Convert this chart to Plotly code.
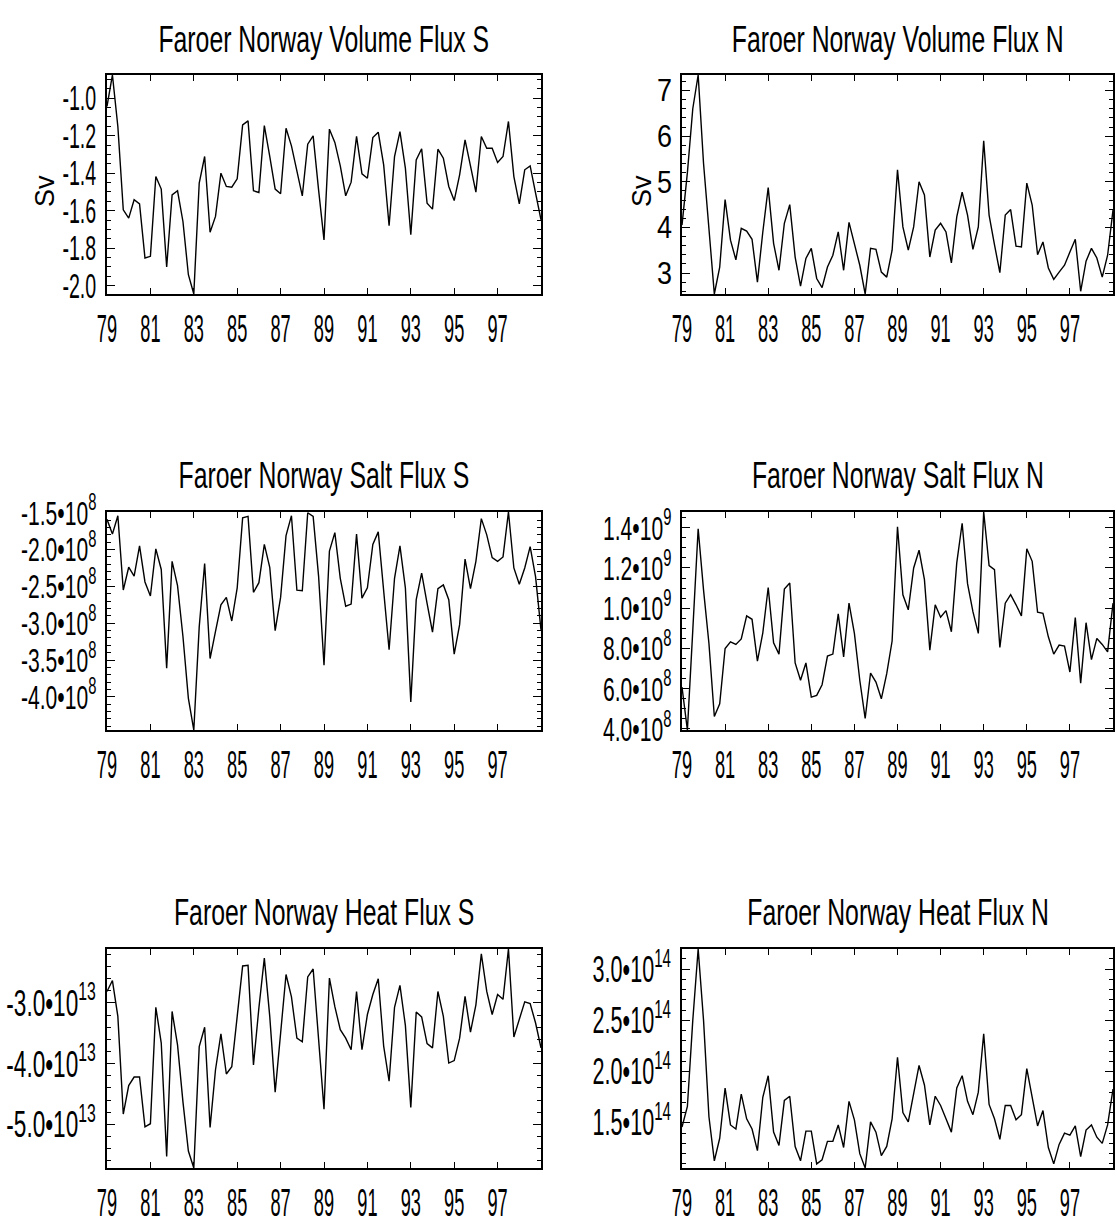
import plotly.graph_objects as go

# ---------------- data (quarterly, 1979.00 .. 1999.00) ----------------
start_year = 79
quarters = list(range(81))
years = [start_year + q / 4 for q in quarters]

vol_s = [-1.044, -0.876, -1.151, -1.596, -1.640, -1.542, -1.564, -1.853, -1.844, -1.418,
         -1.485, -1.901, -1.516, -1.494, -1.658, -1.942, -2.045, -1.453, -1.311, -1.715,
         -1.631, -1.400, -1.471, -1.475, -1.430, -1.142, -1.121, -1.494, -1.503, -1.146,
         -1.311, -1.485, -1.510, -1.160, -1.254, -1.391, -1.521, -1.245, -1.201, -1.489,
         -1.756, -1.165, -1.236, -1.361, -1.521, -1.448, -1.204, -1.404, -1.427, -1.210,
         -1.181, -1.356, -1.681, -1.311, -1.178, -1.373, -1.729, -1.329, -1.270, -1.560,
         -1.592, -1.272, -1.320, -1.471, -1.546, -1.409, -1.222, -1.361, -1.501, -1.204,
         -1.267, -1.267, -1.343, -1.311, -1.124, -1.418, -1.564, -1.382, -1.361, -1.507,
         -1.649]

vol_n = [4.05, 5.2, 6.6, 7.34, 5.4, 3.9, 2.54, 3.13, 4.61, 3.72,
         3.29, 3.98, 3.92, 3.74, 2.80, 3.90, 4.87, 3.65, 3.06, 4.09,
         4.50, 3.35, 2.71, 3.32, 3.54, 2.88, 2.68, 3.13, 3.39, 3.90,
         3.06, 4.11, 3.65, 3.17, 2.54, 3.54, 3.52, 3.02, 2.91, 3.50,
         5.26, 4.01, 3.50, 4.01, 5.00, 4.71, 3.35, 3.94, 4.09, 3.90,
         3.22, 4.23, 4.77, 4.27, 3.52, 4.01, 5.90, 4.27, 3.62, 3.01,
         4.27, 4.39, 3.59, 3.57, 4.97, 4.49, 3.40, 3.68, 3.11, 2.86,
         3.02, 3.17, 3.46, 3.74, 2.60, 3.26, 3.54, 3.33, 2.91, 3.39,
         4.38]

salt_s_1e8 = [-1.59, -1.79, -1.54, -2.55, -2.24, -2.36, -1.95, -2.44, -2.63, -1.99,
              -2.27, -3.61, -2.16, -2.49, -3.18, -4.02, -4.45, -3.05, -2.19, -3.48,
              -3.11, -2.75, -2.65, -2.97, -2.52, -1.57, -1.55, -2.58, -2.45, -1.93,
              -2.24, -3.10, -2.65, -1.81, -1.54, -2.55, -2.56, -1.50, -1.55, -2.36,
              -3.57, -2.02, -1.77, -2.39, -2.77, -2.74, -1.79, -2.66, -2.52, -1.93,
              -1.76, -2.59, -3.36, -2.39, -1.95, -2.52, -4.07, -2.68, -2.32, -2.73,
              -3.12, -2.53, -2.48, -2.68, -3.42, -3.02, -2.13, -2.53, -2.16, -1.58,
              -1.80, -2.11, -2.16, -2.10, -1.49, -2.25, -2.47, -2.25, -1.96, -2.37,
              -3.09]

salt_n_1e9 = [0.608, 0.395, 0.890, 1.395, 1.090, 0.825, 0.462, 0.525, 0.800, 0.833,
              0.820, 0.847, 0.962, 0.945, 0.737, 0.878, 1.103, 0.828, 0.772, 1.095,
              1.125, 0.728, 0.642, 0.728, 0.558, 0.567, 0.620, 0.762, 0.772, 0.972,
              0.758, 1.025, 0.875, 0.642, 0.453, 0.678, 0.633, 0.550, 0.675, 0.837,
              1.405, 1.067, 0.992, 1.200, 1.288, 1.142, 0.792, 1.017, 0.955, 0.988,
              0.883, 1.225, 1.422, 1.122, 0.983, 0.875, 1.478, 1.212, 1.192, 0.805,
              1.025, 1.067, 1.017, 0.962, 1.295, 1.233, 0.980, 0.975, 0.858, 0.772,
              0.817, 0.812, 0.683, 0.953, 0.628, 0.928, 0.745, 0.850, 0.820, 0.783,
              1.025]

heat_s_1e13 = [-2.81, -2.63, -3.22, -4.83, -4.36, -4.22, -4.22, -5.04, -4.99, -3.07,
               -3.66, -5.53, -3.14, -3.69, -4.63, -5.44, -5.72, -3.72, -3.40, -5.05,
               -4.10, -3.51, -4.17, -4.05, -3.22, -2.39, -2.38, -4.02, -3.08, -2.26,
               -3.22, -4.47, -3.50, -2.53, -2.90, -3.58, -3.64, -2.57, -2.44, -3.63,
               -4.75, -2.59, -3.06, -3.44, -3.58, -3.77, -2.81, -3.77, -3.19, -2.86,
               -2.60, -3.71, -4.29, -3.07, -2.71, -3.37, -4.72, -3.15, -3.23, -3.67,
               -3.74, -2.81, -3.22, -3.99, -3.95, -3.58, -2.89, -3.48, -3.03, -2.19,
               -2.81, -3.19, -2.86, -2.94, -2.11, -3.56, -3.28, -2.98, -3.01, -3.33,
               -3.74]

heat_n_1e14 = [1.46, 1.66, 2.50, 3.196, 2.50, 1.56, 1.13, 1.35, 1.84, 1.48,
               1.44, 1.78, 1.54, 1.44, 1.23, 1.75, 1.96, 1.41, 1.28, 1.72,
               1.76, 1.27, 1.13, 1.42, 1.42, 1.10, 1.14, 1.32, 1.32, 1.48,
               1.26, 1.71, 1.53, 1.20, 1.06, 1.51, 1.41, 1.18, 1.27, 1.54,
               2.14, 1.60, 1.51, 1.78, 2.06, 1.87, 1.48, 1.76, 1.67, 1.54,
               1.41, 1.84, 1.96, 1.71, 1.58, 1.80, 2.37, 1.68, 1.54, 1.34,
               1.67, 1.67, 1.53, 1.58, 2.03, 1.75, 1.47, 1.62, 1.26, 1.10,
               1.29, 1.40, 1.38, 1.47, 1.17, 1.43, 1.48, 1.36, 1.30, 1.48,
               1.83]

titles = ["Faroer Norway Volume Flux S", "Faroer Norway Volume Flux N",
          "Faroer Norway Salt Flux S", "Faroer Norway Salt Flux N",
          "Faroer Norway Heat Flux S", "Faroer Norway Heat Flux N"]
y_titles = ["Sv", "Sv", None, None, None, None]

x_tick_vals = [79, 81, 83, 85, 87, 89, 91, 93, 95, 97]
x_tick_text = ["79", "81", "83", "85", "87", "89", "91", "93", "95", "97"]

vol_s_ticks = [-2.0, -1.8, -1.6, -1.4, -1.2, -1.0]
vol_s_text = ["-2.0", "-1.8", "-1.6", "-1.4", "-1.2", "-1.0"]
vol_n_ticks = [3, 4, 5, 6, 7]
vol_n_text = ["3", "4", "5", "6", "7"]
salt_s_ticks = [-4.0e8, -3.5e8, -3.0e8, -2.5e8, -2.0e8, -1.5e8]
salt_s_text = ["-4.0•10<sup>8</sup>", "-3.5•10<sup>8</sup>", "-3.0•10<sup>8</sup>",
               "-2.5•10<sup>8</sup>", "-2.0•10<sup>8</sup>", "-1.5•10<sup>8</sup>"]
salt_n_ticks = [4.0e8, 6.0e8, 8.0e8, 1.0e9, 1.2e9, 1.4e9]
salt_n_text = ["4.0•10<sup>8</sup>", "6.0•10<sup>8</sup>", "8.0•10<sup>8</sup>",
               "1.0•10<sup>9</sup>", "1.2•10<sup>9</sup>", "1.4•10<sup>9</sup>"]
heat_s_ticks = [-5.0e13, -4.0e13, -3.0e13]
heat_s_text = ["-5.0•10<sup>13</sup>", "-4.0•10<sup>13</sup>", "-3.0•10<sup>13</sup>"]
heat_n_ticks = [1.5e14, 2.0e14, 2.5e14, 3.0e14]
heat_n_text = ["1.5•10<sup>14</sup>", "2.0•10<sup>14</sup>", "2.5•10<sup>14</sup>", "3.0•10<sup>14</sup>"]

series_values = [vol_s,
                 vol_n,
                 [v * 1e8 for v in salt_s_1e8],
                 [v * 1e9 for v in salt_n_1e9],
                 [v * 1e13 for v in heat_s_1e13],
                 [v * 1e14 for v in heat_n_1e14]]
y_tick_vals = [vol_s_ticks, vol_n_ticks, salt_s_ticks, salt_n_ticks, heat_s_ticks, heat_n_ticks]
y_tick_text = [vol_s_text, vol_n_text, salt_s_text, salt_n_text, heat_s_text, heat_n_text]
y_minor_step = [0.05, 0.2, 0.1e8, 0.05e9, 0.2e13, 0.1e14]

# ---------------- style / layout ----------------
W, H = 1117, 1231
FONT = "Liberation Sans, Arial, Helvetica, sans-serif"
col_px = [(107, 541), (682, 1113)]
row_px = [(75, 294), (512, 730), (949, 1168)]
title_y_px = [40, 476, 912]
ylab_size = [35, 31, 34, 34, 37, 36]
ylab_squeeze = [0.56, 0.87, 0.62, 0.62, 0.61, 0.60]
title_size, title_squeeze = 37, 0.67
xlab_size, xlab_squeeze = 38, 0.48

fig = go.Figure()
annotations = []
for k, vals in enumerate(series_values):
    r, c = divmod(k, 2)
    n = k + 1
    sfx = "" if n == 1 else str(n)
    xa, ya = "x" + sfx, "y" + sfx
    fig.add_trace(go.Scatter(x=years, y=vals, mode="lines", xaxis=xa, yaxis=ya,
                             line=dict(color="black", width=1.4), showlegend=False,
                             hoverinfo="skip"))
    x0, x1 = col_px[c]
    top, bot = row_px[r]
    common = dict(showline=True, linecolor="black", linewidth=1.6, mirror="allticks",
                  ticks="inside", tickcolor="black", showgrid=False, zeroline=False,
                  tickwidth=1.2, automargin=False)
    fig.layout["xaxis" + sfx] = dict(
        domain=[x0 / W, x1 / W], anchor=ya, range=[79, 99], tickmode="array",
        tickvals=x_tick_vals + [99], ticktext=x_tick_text + [""], ticklen=6,
        tickangle=0, ticklabelstandoff=1,
        tickfont=dict(family=FONT, size=xlab_size, color="black"),
        **common)
    fig.layout["yaxis" + sfx] = dict(
        domain=[1 - bot / H, 1 - top / H], anchor=xa, range=[min(vals), max(vals)],
        tickmode="array", tickvals=y_tick_vals[k], ticktext=y_tick_text[k],
        ticklen=8, ticklabelstandoff=2, tickangle=0,
        tickfont=dict(family=FONT, size=ylab_size[k], color="black"),
        minor=dict(tickmode="linear", tick0=y_tick_vals[k][0], dtick=y_minor_step[k],
                   ticks="inside", ticklen=4, tickcolor="black", tickwidth=1),
        **common)
    annotations.append(dict(text=titles[k], x=(x0 + x1) / 2 / W, y=1 - title_y_px[r] / H,
                            xref="paper", yref="paper", xanchor="center", yanchor="middle",
                            showarrow=False,
                            font=dict(family=FONT, size=title_size, color="black")))
    if y_titles[k]:
        annotations.append(dict(text=y_titles[k], x=(45 if c == 0 else 642) / W,
                                y=1 - 191 / H, xref="paper", yref="paper",
                                xanchor="center", yanchor="middle", textangle=-90,
                                showarrow=False, font=dict(family=FONT, size=27, color="black")))

fig.update_layout(width=W, height=H,
                  margin=dict(l=0, r=0, t=0, b=0, pad=0, autoexpand=False),
                  paper_bgcolor="white", plot_bgcolor="white",
                  annotations=annotations, showlegend=False)

# page without body margin, and condensed lettering (like the original's narrow font):
# each text keeps its centre/right edge, is squeezed horizontally and re-anchored at its end
js_lines = ["document.documentElement.style.margin='0';",
            "document.body.style.margin='0';document.body.style.padding='0';",
            "var gd=document.getElementById('{plot_id}');",
            "function sq(sel,f){gd.querySelectorAll(sel).forEach(function(t){",
            "if(t.textContent==='Sv')return;var L=t.getComputedTextLength();if(!(L>0))return;",
            "var x=parseFloat(t.getAttribute('x'))||0;var a=t.getAttribute('text-anchor')||'start';",
            "var left=(a==='middle')?x-L/2:((a==='end')?x-L:x);var sL=L*f;",
            "var right=(a==='start')?left+sL:((a==='end')?x:left+L/2+sL/2);",
            "t.setAttribute('text-anchor','end');t.setAttribute('x',right.toFixed(2));",
            "t.querySelectorAll('tspan.line').forEach(function(s){s.setAttribute('x',right.toFixed(2));});",
            "t.setAttribute('textLength',sL.toFixed(2));",
            "t.setAttribute('lengthAdjust','spacingAndGlyphs');});}",
            "sq('text.annotation-text',%s);" % title_squeeze]
for k in range(6):
    sfx = "" if k == 0 else str(k + 1)
    js_lines.append("sq('g.x%stick text',%s);" % (sfx, xlab_squeeze))
    js_lines.append("sq('g.y%stick text',%s);" % (sfx, ylab_squeeze[k]))
post_js = "".join(js_lines)

fig.write_html("out.html", post_script=post_js)
